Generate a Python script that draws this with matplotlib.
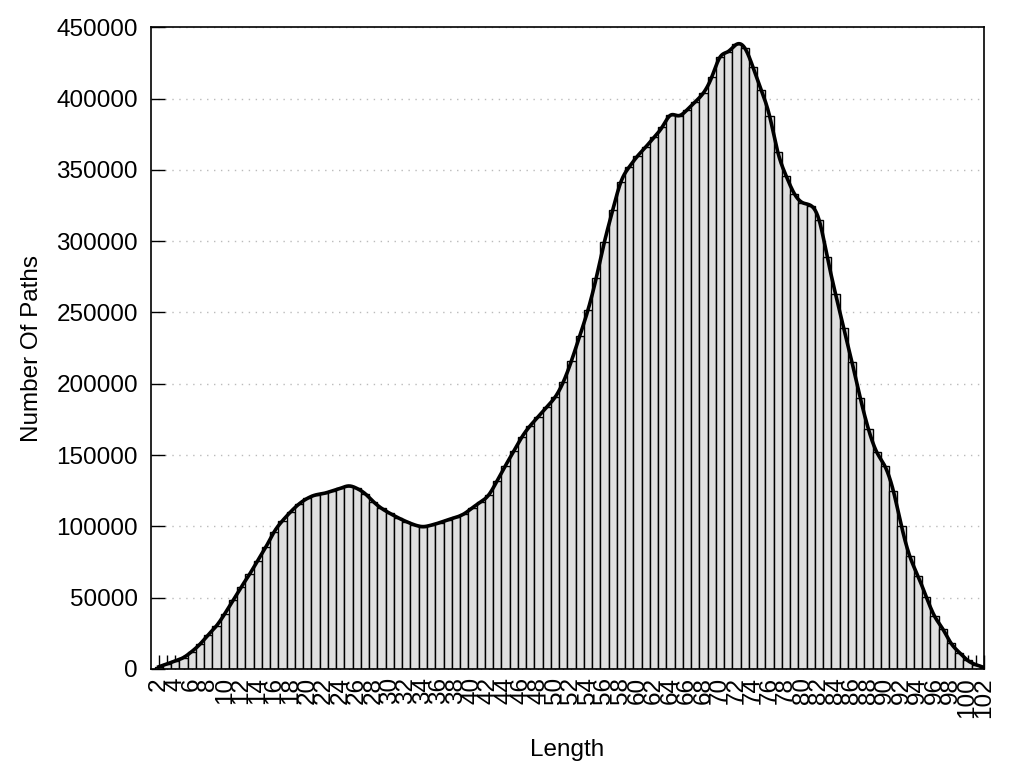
import numpy as np
import matplotlib
matplotlib.use("Agg")
import matplotlib.pyplot as plt

plt.rcParams['font.family'] = ['Liberation Sans', 'DejaVu Sans']

# path length -> number of paths
lengths = list(range(2, 103))
paths = [
    1500, 3500, 5600, 8000, 12200, 17400, 24000, 30300, 38700, 48100,      # 2-11
    57500, 66400, 76000, 85700, 96300, 104000, 110300, 115700, 119600, 122000,  # 12-21
    123100, 124800, 126600, 128300, 126600, 122900, 117300, 112600, 109100, 106000,  # 22-31
    103300, 101000, 99800, 100800, 102500, 104500, 106300, 108800, 113000, 117000,  # 32-41
    122200, 132000, 142500, 152500, 162600, 170500, 177000, 183600, 190400, 201000,  # 42-51
    216000, 233400, 251600, 274000, 299500, 321700, 341600, 352000, 359600, 366000,  # 52-61
    372700, 380000, 388300, 388000, 392000, 397700, 404000, 415000, 429000, 433000,  # 62-71
    438000, 435500, 422000, 406000, 388000, 362600, 346000, 333400, 327000, 325000,  # 72-81
    315000, 289000, 263000, 239000, 215000, 190000, 168000, 152000, 142000, 125000,  # 82-91
    100000, 79000, 65000, 50500, 37000, 28000, 18000, 11500, 6000, 3000,   # 92-101
    1000,                                                                  # 102
]


def csplines(x, y, n=2000):
    # natural cubic spline, like gnuplot "smooth csplines"
    x = np.asarray(x, float)
    y = np.asarray(y, float)
    h = np.diff(x)
    m = len(x)
    A = np.zeros((m, m))
    b = np.zeros(m)
    A[0, 0] = 1
    A[-1, -1] = 1
    for i in range(1, m - 1):
        A[i, i - 1] = h[i - 1]
        A[i, i] = 2 * (h[i - 1] + h[i])
        A[i, i + 1] = h[i]
        b[i] = 6 * ((y[i + 1] - y[i]) / h[i] - (y[i] - y[i - 1]) / h[i - 1])
    M = np.linalg.solve(A, b)
    xs = np.linspace(x[0], x[-1], n)
    idx = np.clip(np.searchsorted(x, xs) - 1, 0, m - 2)
    x0, x1 = x[idx], x[idx + 1]
    hh = x1 - x0
    t0 = x1 - xs
    t1 = xs - x0
    ys = (M[idx] * t0 ** 3 + M[idx + 1] * t1 ** 3) / (6 * hh) \
        + (y[idx] / hh - M[idx] * hh / 6) * t0 \
        + (y[idx + 1] / hh - M[idx + 1] * hh / 6) * t1
    return xs, ys


fig = plt.figure(figsize=(10.24, 7.68), dpi=100)
ax = fig.add_axes([0.147, 0.129, 0.814, 0.8355])
ax.set_axisbelow(True)

ax.bar(lengths, paths, width=1.0, color='#e0e0e0', edgecolor='black', linewidth=1.0, zorder=1)
sx, sy = csplines(lengths, paths)
ax.plot(sx, sy, color='black', linewidth=2.6, zorder=3)

ax.set_xlim(1, 102)
ax.set_ylim(0, 450000)
ax.set_xticks(lengths)
ax.set_xticklabels([str(v) if v % 2 == 0 else '' for v in lengths], rotation=90, fontsize=17.5)
ax.set_yticks(range(0, 450001, 50000))
ax.set_yticklabels([str(v) for v in range(0, 450001, 50000)], fontsize=17.5)
ax.tick_params(axis='both', direction='in', length=10, width=1)
ax.tick_params(axis='y', pad=9)
ax.tick_params(axis='x', pad=6)
ax.yaxis.grid(True, linestyle=(0, (1, 4)), color='#bbbbbb', linewidth=1)

for s in ax.spines.values():
    s.set_linewidth(1.2)

ax.set_xlabel('Length', fontsize=17.5, labelpad=15)
ax.set_ylabel('Number Of Paths', fontsize=17.5, labelpad=10)

fig.savefig('out.png', dpi=100)
